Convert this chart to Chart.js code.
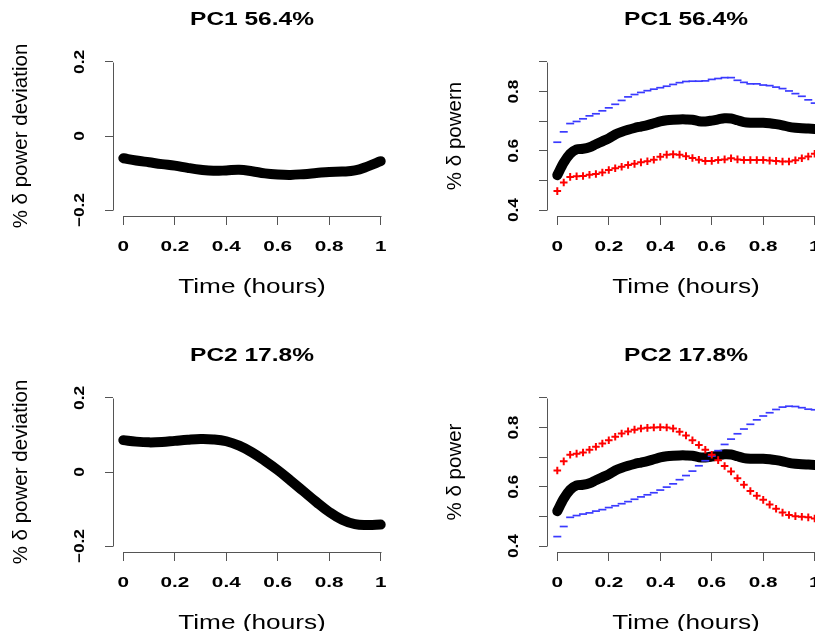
<!DOCTYPE html>
<html><head><meta charset="utf-8">
<script src="https://cdn.jsdelivr.net/npm/chart.js@4/dist/chart.umd.min.js"></script>
<style>
html,body{margin:0;padding:0;background:#fff;overflow:hidden;width:815px;height:631px;}
#wrap{position:relative;width:815px;height:631px;overflow:hidden;background:#fff;}
.panel{position:absolute;width:434px;height:336px;}
canvas{display:block;}
</style></head><body>
<div id="wrap">
<div class="panel" style="left:0;top:0"><canvas id="c1" width="434" height="336"></canvas></div>
<div class="panel" style="left:434px;top:0"><canvas id="c2" width="434" height="336"></canvas></div>
<div class="panel" style="left:0;top:336px"><canvas id="c3" width="434" height="336"></canvas></div>
<div class="panel" style="left:434px;top:336px"><canvas id="c4" width="434" height="336"></canvas></div>
</div>
<script>
// ---------------- data ----------------
const timeCoarse = [0,0.05,0.1,0.15,0.2,0.25,0.3,0.35,0.4,0.45,0.5,0.55,0.6,0.65,0.7,0.75,0.8,0.85,0.9,0.95,1];
const timeFine = [0,0.025,0.05,0.075,0.1,0.125,0.15,0.175,0.2,0.225,0.25,0.275,0.3,0.325,0.35,0.375,0.4,0.425,0.45,0.475,0.5,0.525,0.55,0.575,0.6,0.625,0.65,0.675,0.7,0.725,0.75,0.775,0.8,0.825,0.85,0.875,0.9,0.925,0.95,0.975,1];

const pc1Curve = [-0.060,-0.066,-0.071,-0.076,-0.080,-0.086,-0.091,-0.094,-0.093,-0.091,-0.095,-0.101,-0.104,-0.105,-0.103,-0.100,-0.097,-0.096,-0.093,-0.082,-0.068];
const pc2Curve = [0.086,0.082,0.080,0.081,0.084,0.087,0.089,0.088,0.083,0.071,0.053,0.030,0.005,-0.023,-0.052,-0.081,-0.108,-0.129,-0.141,-0.143,-0.142];

const meanPower = [0.518,0.560,0.590,0.605,0.607,0.612,0.622,0.632,0.642,0.655,0.664,0.671,0.677,0.682,0.687,0.693,0.699,0.703,0.705,0.706,0.706,0.705,0.700,0.699,0.702,0.706,0.710,0.709,0.703,0.697,0.695,0.695,0.695,0.693,0.690,0.686,0.681,0.678,0.676,0.675,0.674];

const pc1Plus = [0.464,0.493,0.512,0.514,0.515,0.519,0.522,0.527,0.535,0.541,0.546,0.552,0.556,0.561,0.565,0.570,0.580,0.587,0.588,0.587,0.582,0.576,0.570,0.566,0.566,0.569,0.571,0.575,0.571,0.569,0.569,0.569,0.569,0.567,0.566,0.564,0.564,0.568,0.575,0.581,0.590];
const pc1Minus = [0.629,0.664,0.692,0.699,0.708,0.718,0.725,0.735,0.745,0.757,0.770,0.782,0.790,0.797,0.803,0.808,0.813,0.818,0.824,0.830,0.834,0.835,0.835,0.836,0.841,0.844,0.847,0.847,0.838,0.831,0.826,0.826,0.822,0.820,0.815,0.810,0.802,0.793,0.784,0.772,0.761];

const pc2Plus = [0.655,0.686,0.708,0.712,0.716,0.725,0.735,0.746,0.757,0.769,0.780,0.787,0.793,0.797,0.799,0.800,0.801,0.800,0.797,0.786,0.773,0.757,0.741,0.725,0.708,0.690,0.670,0.652,0.629,0.607,0.586,0.570,0.556,0.540,0.526,0.513,0.505,0.501,0.499,0.497,0.493];
const pc2Minus = [0.432,0.466,0.497,0.503,0.508,0.512,0.518,0.523,0.530,0.536,0.543,0.550,0.558,0.566,0.573,0.580,0.589,0.599,0.610,0.624,0.638,0.653,0.671,0.688,0.704,0.722,0.743,0.761,0.779,0.795,0.811,0.826,0.839,0.850,0.861,0.869,0.872,0.871,0.867,0.862,0.860];

const xTicks = [0,0.2,0.4,0.6,0.8,1];
const xTickLabels = ['0','0.2','0.4','0.6','0.8','1'];
const devTicks = [-0.2,0,0.2];
const devTickLabels = ['\u22120.2','0','0.2'];
const powTicks = [0.4,0.5,0.6,0.7,0.8,0.9];
const powTickLabels = ['0.4','','0.6','','0.8',''];

const titles = ['PC1 56.4%','PC1 56.4%','PC2 17.8%','PC2 17.8%'];
const yTitles = ['% \u03b4 power deviation','% \u03b4 powern','% \u03b4 power deviation','% \u03b4 power'];
const xTitle = 'Time (hours)';

// ---------------- helpers ----------------
const FONT = '"Liberation Sans", Arial, Helvetica, sans-serif';
const AXIS_COLOR = '#555';
const zip = (xs, ys) => xs.map((x, i) => ({x: x, y: ys[i]}));

function drawText(ctx, text, x, y, font, k, rot, align) {
  ctx.save();
  ctx.translate(x, y);
  if (rot) ctx.rotate(rot);
  ctx.scale(k, 1);
  ctx.font = font;
  ctx.fillStyle = '#000';
  ctx.textAlign = align || 'center';
  ctx.textBaseline = 'alphabetic';
  ctx.fillText(text, 0, 0);
  ctx.restore();
}

const rStyle = {
  id: 'rStyle',
  afterDraw(chart, args, o) {
    const ctx = chart.ctx;
    const ca = chart.chartArea;
    const xs = chart.scales.x, ys = chart.scales.y;
    ctx.save();
    ctx.strokeStyle = AXIS_COLOR;
    ctx.lineWidth = 1;
    const xl = Math.round(ca.left) + 0.5;
    ctx.beginPath();
    ctx.moveTo(xl, Math.round(ys.getPixelForValue(o.yTicks[0])) + 0.5);
    ctx.lineTo(xl, Math.round(ys.getPixelForValue(o.yTicks[o.yTicks.length - 1])) + 0.5);
    ctx.stroke();
    const yb = Math.round(ca.bottom) + 0.5;
    ctx.beginPath();
    ctx.moveTo(Math.round(xs.getPixelForValue(xTicks[0])) + 0.5, yb);
    ctx.lineTo(Math.round(xs.getPixelForValue(xTicks[xTicks.length - 1])) + 0.5, yb);
    ctx.stroke();
    ctx.restore();
    const cx = (ca.left + ca.right) / 2;
    const cy = (ca.top + ca.bottom) / 2;
    drawText(ctx, o.title, cx, ca.top - 31, 'bold 18px ' + FONT, 1.36, 0);
    xTicks.forEach((v, i) => {
      drawText(ctx, xTickLabels[i], xs.getPixelForValue(v), ca.bottom + 35, 'bold 15px ' + FONT, 1.38, 0);
    });
    drawText(ctx, xTitle, cx, ca.bottom + 77, '20px ' + FONT, 1.31, 0);
    o.yTicks.forEach((v, i) => {
      if (!o.yLabels[i]) return;
      drawText(ctx, o.yLabels[i], ca.left - 29, ys.getPixelForValue(v), 'bold 15px ' + FONT, 1.15, -Math.PI / 2);
    });
    drawText(ctx, o.yTitle, ca.left - 86, cy, '20.5px ' + FONT, 1.0, -Math.PI / 2);
  }
};

function makePanel(id, idx, yMin, yMax, yTicks, yLabels, datasets) {
  return new Chart(document.getElementById(id), {
    type: 'line',
    data: { datasets: datasets },
    plugins: [rStyle],
    options: {
      responsive: false,
      animation: false,
      devicePixelRatio: 1,
      layout: { padding: { left: 0, right: 43, top: 56, bottom: 0 } },
      plugins: {
        legend: { display: false },
        tooltip: { enabled: false },
        title: { display: false },
        rStyle: { title: titles[idx], yTitle: yTitles[idx], yTicks: yTicks, yLabels: yLabels }
      },
      scales: {
        x: {
          type: 'linear', min: -0.04, max: 1.04,
          afterBuildTicks: s => { s.ticks = xTicks.map(v => ({ value: v })); },
          afterFit: s => { s.height = 120; },
          ticks: { display: false },
          border: { display: false },
          grid: { display: true, drawOnChartArea: false, drawTicks: true, tickLength: 9, color: AXIS_COLOR, lineWidth: 1 }
        },
        y: {
          type: 'linear', min: yMin, max: yMax,
          afterBuildTicks: s => { s.ticks = yTicks.map(v => ({ value: v })); },
          afterFit: s => { s.width = 113; },
          ticks: { display: false },
          border: { display: false },
          grid: { display: true, drawOnChartArea: false, drawTicks: true, tickLength: 8, color: AXIS_COLOR, lineWidth: 1 }
        }
      }
    }
  });
}

function blackLine(xs, ys, tension) {
  return { data: zip(xs, ys), borderColor: '#000', borderWidth: 10, borderCapStyle: 'round', borderJoinStyle: 'round',
           pointRadius: 0, tension: tension, fill: false, order: 2 };
}
function plusPts(ys) {
  return { data: zip(timeFine, ys), showLine: false, pointStyle: 'cross', pointRadius: 3.8,
           pointBorderWidth: 2, pointBorderColor: '#ff0000', pointBackgroundColor: '#ff0000', order: 0 };
}
function minusPts(ys) {
  return { data: zip(timeFine, ys), showLine: false, pointStyle: 'line', pointRadius: 4,
           pointBorderWidth: 1.7, pointBorderColor: '#3a3aff', pointBackgroundColor: '#3a3aff', order: 1 };
}

makePanel('c1', 0, -0.216, 0.216, devTicks, devTickLabels, [blackLine(timeCoarse, pc1Curve, 0.4)]);
makePanel('c2', 1, 0.38, 0.92, powTicks, powTickLabels, [blackLine(timeFine, meanPower, 0.3), plusPts(pc1Plus), minusPts(pc1Minus)]);
makePanel('c3', 2, -0.216, 0.216, devTicks, devTickLabels, [blackLine(timeCoarse, pc2Curve, 0.4)]);
makePanel('c4', 3, 0.38, 0.92, powTicks, powTickLabels, [blackLine(timeFine, meanPower, 0.3), plusPts(pc2Plus), minusPts(pc2Minus)]);
</script>
</body></html>
